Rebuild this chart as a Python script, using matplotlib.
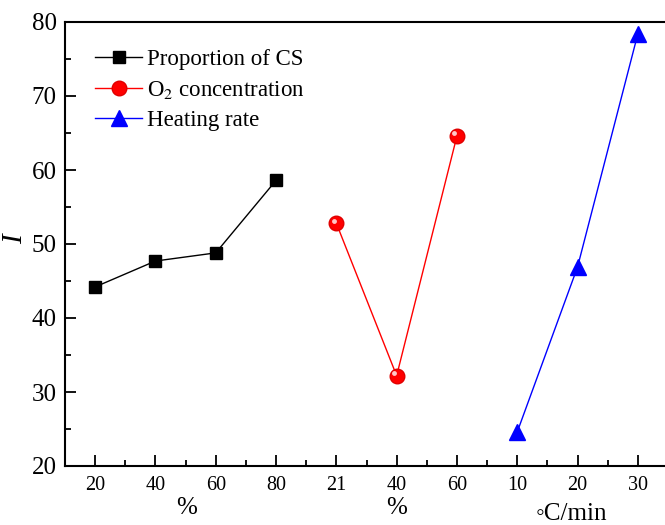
import matplotlib
matplotlib.use("Agg")
import matplotlib.pyplot as plt
import matplotlib.transforms as mtransforms
import numpy as np

tick_labels = ["20", "40", "60", "80", "21", "40", "60", "10", "20", "30"]
cs_values = [44.2, 47.7, 48.8, 58.6]
o2_values = [52.8, 32.2, 64.6]
hr_values = [24.6, 46.9, 78.4]
group_labels = ["%", "%", "\u25e6C/min"]

plt.rcParams["font.family"] = ["Liberation Serif", "DejaVu Serif"]
plt.rcParams["mathtext.fontset"] = "stix"

fig = plt.figure(figsize=(6.65, 5.25), dpi=100)
ax = fig.add_axes([65 / 665, 1 - 466 / 525, 603 / 665, 444 / 525])

x_cs = np.arange(0, 4)
x_o2 = np.arange(4, 7)
x_hr = np.arange(7, 10)

ax.plot(x_cs, cs_values, color="black", lw=1, marker="s", ms=9,
        mfc="black", mec="black", label="Proportion of CS", zorder=3)
ax.plot(x_o2, o2_values, color="red", lw=1, marker="o", ms=10.5,
        mfc="red", mec="#e00000", label="O$_2$ concentration", zorder=3)
# highlight on spheres
off = mtransforms.ScaledTranslation(-1.8 / 72, 1.8 / 72, fig.dpi_scale_trans)
ax.plot(x_o2, o2_values, ls="none", marker="o", ms=3.5, mfc="#ffdede", mec="none",
        alpha=0.9, transform=ax.transData + off, zorder=4)
ax.plot(x_hr, hr_values, color="blue", lw=1, marker="^", ms=12,
        mfc="blue", mec="blue", label="Heating rate", zorder=3)

ax.set_xlim(-0.5, 9.5)
ax.set_ylim(20, 80)
ax.set_xticks(np.arange(10))
ax.set_xticklabels(tick_labels, fontsize=14.5)
ax.set_xticks(np.arange(10) + 0.5, minor=True)
ax.set_yticks(np.arange(20, 81, 10))
ax.set_yticks(np.arange(25, 80, 10), minor=True)
ax.tick_params(axis="y", labelsize=18, pad=6)
ax.tick_params(axis="x", pad=7)
ax.tick_params(which="major", direction="in", length=8, width=1.3)
ax.tick_params(which="minor", direction="in", length=4, width=1.3)
for s in ax.spines.values():
    s.set_linewidth(1.5)

ax.set_ylabel("I", fontsize=21, style="italic")
ax.yaxis.set_label_coords(-0.062, 0.51)

for pos, lab, yb in zip([1.51, 5, 7.9], group_labels, [-0.108, -0.108, -0.122]):
    ax.text(pos, yb, lab, transform=ax.get_xaxis_transform(),
            ha="center", va="baseline", fontsize=18)

leg = ax.legend(loc="upper left", bbox_to_anchor=(0.035, 0.96), frameon=False,
                fontsize=16.5, handlelength=2.05, handletextpad=0.2,
                labelspacing=0.4, borderaxespad=0)

fig.savefig("out.png", dpi=100)
